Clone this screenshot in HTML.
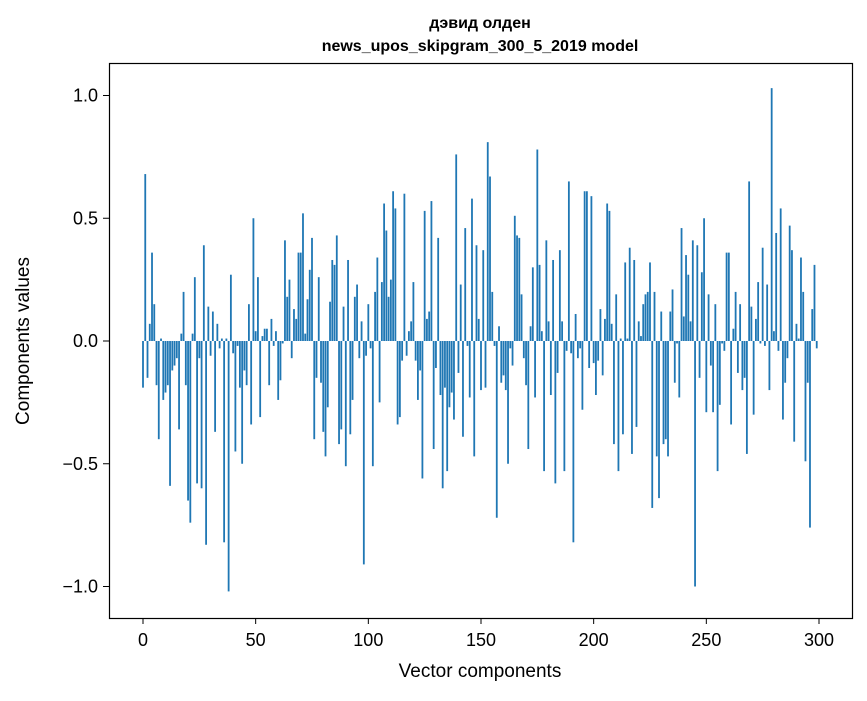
<!DOCTYPE html>
<html><head><meta charset="utf-8"><style>
body{margin:0;background:#fff}
svg text{font-family:"Liberation Sans","DejaVu Sans",sans-serif;fill:#000}
</style></head><body>
<svg id="chart" width="867" height="696" xmlns="http://www.w3.org/2000/svg">
<rect width="867" height="696" fill="#fff"/>
<text x="480" y="28" text-anchor="middle" font-size="16" font-weight="bold">дэвид олден</text>
<text x="480" y="51" text-anchor="middle" font-size="16" font-weight="bold">news_upos_skipgram_300_5_2019 model</text>
<g id="bars"></g>
<g id="axes"></g>
<rect x="109.5" y="63.5" width="743" height="555" fill="none" stroke="#000" stroke-width="1.2"/>
<text x="480" y="677" text-anchor="middle" font-size="19">Vector components</text>
<text transform="translate(29,341) rotate(-90)" text-anchor="middle" font-size="19">Components values</text>
</svg>
<script>
const values = [
-0.19,0.68,-0.15,0.07,0.36,0.15,-0.18,-0.40,0.01,-0.24,
-0.21,-0.18,-0.59,-0.12,-0.10,-0.07,-0.36,0.03,0.20,-0.18,
-0.65,-0.74,0.03,0.26,-0.58,-0.07,-0.60,0.39,-0.83,0.14,
-0.06,0.12,-0.37,0.07,-0.03,0.01,-0.82,0.01,-1.02,0.27,
-0.05,-0.45,-0.02,-0.19,-0.50,-0.12,-0.18,0.15,-0.34,0.50,
0.04,0.26,-0.31,0.02,0.05,0.05,-0.18,0.09,-0.02,0.04,
-0.24,-0.16,-0.01,0.41,0.18,0.25,-0.07,0.13,0.09,0.36,
0.36,0.52,0.03,0.17,0.29,0.42,-0.40,-0.15,0.26,-0.17,
-0.37,-0.47,-0.27,0.16,0.33,0.31,0.43,-0.42,-0.36,0.14,
-0.51,0.33,-0.38,-0.24,0.18,0.23,-0.07,0.08,-0.91,-0.06,
0.15,-0.03,-0.51,0.20,0.34,-0.25,0.24,0.56,0.45,0.18,
0.25,0.61,0.54,-0.34,-0.31,-0.08,0.60,-0.06,0.04,0.08,
0.24,-0.08,-0.24,-0.12,-0.56,0.53,0.09,0.12,0.57,-0.44,
-0.11,0.42,-0.22,-0.60,-0.19,-0.53,-0.27,-0.21,-0.32,0.76,
-0.13,0.23,-0.39,0.46,-0.02,-0.23,0.58,-0.47,0.39,0.09,
-0.20,0.37,-0.19,0.81,0.67,0.20,-0.02,-0.72,0.06,-0.17,
-0.14,-0.20,-0.50,-0.03,-0.10,0.51,0.43,0.42,0.19,-0.07,
-0.18,-0.44,0.06,0.30,-0.23,0.78,0.31,0.04,-0.53,0.41,
0.08,-0.22,0.33,-0.58,-0.13,0.37,0.08,-0.53,-0.04,0.65,
-0.05,-0.82,0.11,-0.07,-0.03,-0.28,0.61,0.61,-0.11,0.59,
-0.09,-0.22,-0.08,0.13,-0.14,0.09,0.56,0.53,0.07,-0.42,
0.19,-0.53,0.01,-0.38,0.32,0.01,0.38,-0.46,0.33,-0.35,
0.08,0.02,0.15,0.19,0.20,0.32,-0.68,0.20,-0.47,-0.64,
0.12,-0.42,-0.40,-0.47,0.12,0.21,-0.17,-0.01,-0.23,0.46,
0.10,0.35,0.27,0.08,0.41,-1.00,0.39,-0.15,0.28,0.50,
-0.29,0.19,-0.10,-0.29,0.15,-0.53,-0.26,-0.01,-0.04,0.36,
0.36,-0.34,0.05,0.20,-0.13,0.15,-0.20,-0.15,-0.46,0.65,
0.14,-0.30,0.09,0.24,-0.01,0.38,-0.02,0.23,-0.20,1.03,
0.04,0.44,-0.04,0.54,-0.32,-0.17,-0.07,0.47,0.37,-0.41,
0.07,0.01,0.34,0.20,-0.49,-0.17,-0.76,0.13,0.31,-0.03
];
const xTicks = [0,50,100,150,200,250,300];
const yTicks = [-1.0,-0.5,0.0,0.5,1.0];
const yTickLabels = ["\u22121.0","\u22120.5","0.0","0.5","1.0"];

const NS="http://www.w3.org/2000/svg";
const X0=143, XS=2.2533, Y0=341, YS=245.5;
function xs(v){return X0+v*XS;}
function ys(v){return Y0-v*YS;}
const bars=document.getElementById('bars');
values.forEach((v,i)=>{
  const r=document.createElementNS(NS,'rect');
  
  
  const y1=ys(Math.max(v,0)), y2=ys(Math.min(v,0));
  r.setAttribute('x',xs(i-0.4));
  r.setAttribute('width',0.8*XS);
  r.setAttribute('y',y1);
  r.setAttribute('height',Math.max(y2-y1,0.3));
  r.setAttribute('fill','#1f77b4');
  bars.appendChild(r);
});
const axes=document.getElementById('axes');
xTicks.forEach(t=>{
  const l=document.createElementNS(NS,'line');
  
  
  l.setAttribute('x1',xs(t));l.setAttribute('x2',xs(t));
  l.setAttribute('y1',618);l.setAttribute('y2',624);
  l.setAttribute('stroke','#000');
  axes.appendChild(l);
  const tx=document.createElementNS(NS,'text');
  
  
  tx.setAttribute('x',xs(t));tx.setAttribute('y',646);
  tx.setAttribute('text-anchor','middle');tx.setAttribute('font-size','18');
  tx.textContent=t;
  axes.appendChild(tx);
});
yTicks.forEach((t,k)=>{
  const l=document.createElementNS(NS,'line');
  
  
  l.setAttribute('x1',103);l.setAttribute('x2',109);
  l.setAttribute('y1',ys(t));l.setAttribute('y2',ys(t));
  l.setAttribute('stroke','#000');
  axes.appendChild(l);
  const tx=document.createElementNS(NS,'text');
  
  
  tx.setAttribute('x',98);tx.setAttribute('y',ys(t)+6);
  tx.setAttribute('text-anchor','end');tx.setAttribute('font-size','18');
  tx.textContent=yTickLabels[k];
  axes.appendChild(tx);
});
</script>
</body></html>
